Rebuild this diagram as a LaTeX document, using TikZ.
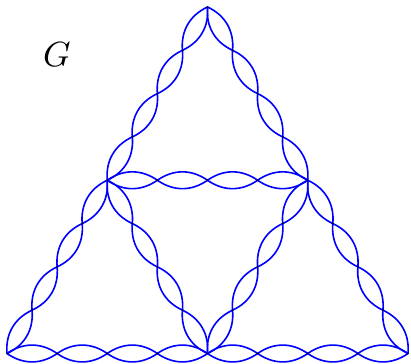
\documentclass[tikz,border=0pt]{standalone}
\usetikzlibrary{calc}
\begin{document}
\begin{tikzpicture}[x=1pt,y=-1pt,
  lens/.style={draw=blue, line width=1.6pt},
  dotmark/.style={circle, fill=black, inner sep=0pt, minimum size=1.8pt}]
\useasboundingbox (0,0) rectangle (411,363);
\coordinate (T) at (207.5,7);
\coordinate (BL) at (7,353.5);
\coordinate (BR) at (408,353.5);
\coordinate (L) at ($(T)!0.5!(BL)$);
\coordinate (R) at ($(T)!0.5!(BR)$);
\coordinate (BM) at ($(BL)!0.5!(BR)$);
\node[scale=3.5] (G) at (57,55) {$G$};
\foreach \a/\b in {T/L, L/R, R/T, L/BL, BL/BM, BM/L, R/BM, BM/BR, BR/R}{
  \foreach \k in {1,2,3}
    \coordinate (\a\b\k) at ($(\a)!\k/4!(\b)$);
  \draw[lens] (\a) to[bend left=35] (\a\b1) to[bend left=35] (\a\b2)
    to[bend left=35] (\a\b3) to[bend left=35] (\b);
  \draw[lens] (\a) to[bend right=35] (\a\b1) to[bend right=35] (\a\b2)
    to[bend right=35] (\a\b3) to[bend right=35] (\b);
}
\foreach \p in {T,L,R,BL,BM,BR}
  \node[dotmark] (d\p) at (\p) {};
\foreach \a/\b in {T/L, L/R, R/T, L/BL, BL/BM, BM/L, R/BM, BM/BR, BR/R}{
  \foreach \k in {1,2,3}
    \node[dotmark] (d\a\b\k) at (\a\b\k) {};
}
\end{tikzpicture}
\end{document}
